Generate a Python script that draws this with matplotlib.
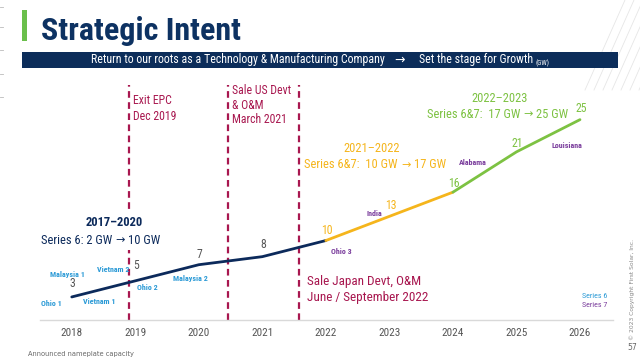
import matplotlib
matplotlib.use("Agg")
import matplotlib.pyplot as plt
from matplotlib.patches import Rectangle
from matplotlib import font_manager as fm

# ---- data ----
years = [2018, 2019, 2020, 2021, 2022, 2023, 2024, 2025, 2026]
capacity = [3, 5, 7, 8, 10, 13, 16, 21, 25]
value_labels = ["3", "5", "7", "8", "10", "13", "16", "21", "25"]
tick_labels = ["2018", "2019", "2020", "2021", "2022", "2023", "2024", "2025", "2026"]
events_x = [2018.9, 2020.46, 2021.57]

NAVY = "#0c2a5b"
YEL = "#f5b51c"
GRN = "#7dc242"
CRIM = "#a8174f"
BLUE = "#2b9ad6"
PURP = "#7a3d9c"
GRAY = "#555555"

# pick a condensed font if available
entries = fm.fontManager.ttflist
names = {f.name for f in entries}
COND = None
STRETCH = "normal"
for cand in ["Liberation Sans Narrow", "Roboto Condensed", "Open Sans Condensed",
             "Noto Sans Condensed", "DejaVu Sans Condensed"]:
    if cand in names:
        COND = cand
        break
if COND is None:
    for fam in ["Noto Sans", "Open Sans", "DejaVu Sans", "Roboto"]:
        if any(f.name == fam and str(f.stretch) in ("condensed", "semi-condensed", "75", "87")
               for f in entries):
            COND = fam
            STRETCH = "condensed"
            break
SCALE = 1.0
if COND is None:
    COND = "Liberation Sans"
    SCALE = 0.9

FAM = [COND, "DejaVu Sans"]
plt.rcParams['font.family'] = FAM
plt.rcParams['font.stretch'] = STRETCH

W, H = 640, 360
fig = plt.figure(figsize=(6.4, 3.6), dpi=100)


def fx(px):
    return px / W


def fy(py):
    return 1 - py / H


def fs(v):
    return v * SCALE


# axes: x from 40px to 613px, y from 85px to 320px
ax = fig.add_axes([fx(40), fy(320), fx(613) - fx(40), fy(85) - fy(320)])
ax.set_xlim(2017.5, 2026.52)
ax.set_ylim(0.14, 29.3)
for s in ["top", "right", "left"]:
    ax.spines[s].set_visible(False)
ax.spines["bottom"].set_color("#d9d9d9")
ax.spines["bottom"].set_linewidth(1)
ax.set_yticks([])
ax.set_xticks(years)
ax.set_xticklabels(tick_labels)
ax.tick_params(axis="x", length=0, pad=6, labelsize=fs(8), labelcolor=GRAY)
ax.patch.set_alpha(0)

# dashed event lines
for ex in events_x:
    ax.axvline(ex, color=CRIM, lw=1.6, linestyle=(0, (3, 2)), zorder=1)

# line segments
ax.plot(years[0:5], capacity[0:5], color=NAVY, lw=2, solid_capstyle="round", zorder=3)
ax.plot(years[4:7], capacity[4:7], color=YEL, lw=2, solid_capstyle="round", zorder=3)
ax.plot(years[6:9], capacity[6:9], color=GRN, lw=2, solid_capstyle="round", zorder=3)

# value labels
val_colors = [GRAY, GRAY, GRAY, GRAY, YEL, YEL, GRN, GRN, GRN]
val_offsets = [13, 15, 10, 12, 10, 11, 9, 8, 11]
for x, y, t, c, o in zip(years, capacity, value_labels, val_colors, val_offsets):
    ax.annotate(t, (x, y), xytext=(1, o), textcoords="offset pixels",
                ha="center", va="center", fontsize=fs(8.5), color=c)

# ---- page decorations ----
# faint diagonal hatch lines top-right
for i in range(7):
    x0 = 585 + i * 9
    fig.add_artist(plt.Line2D([fx(x0), fx(x0 + 40)], [fy(90), fy(0)], color="#e6e6e6",
                              lw=0.6, transform=fig.transFigure, zorder=0))
fig.add_artist(Rectangle((fx(22), fy(41)), fx(5), fy(10) - fy(41),
                         transform=fig.transFigure, color="#6abf4b", lw=0))
fig.text(fx(41), fy(40), "Strategic Intent", fontsize=23, fontweight="black",
         color="#0d3262", va="baseline", ha="left")
fig.add_artist(Rectangle((fx(22), fy(68)), fx(618) - fx(22), fy(52) - fy(68),
                         transform=fig.transFigure, color="#0c2d5a", lw=0, zorder=2))
fig.text(fx(91), fy(60), "Return to our roots as a Technology & Manufacturing Company",
         fontsize=fs(8.6), color="white", va="center", ha="left", zorder=3)
fig.text(fx(400), fy(60), "→", fontsize=9, color="white", va="center", ha="center",
         family=["DejaVu Sans"], zorder=3)
fig.text(fx(419), fy(60), "Set the stage for Growth", fontsize=fs(8.6), color="white",
         va="center", ha="left", zorder=3)
fig.text(fx(535), fy(63), "(GW)", fontsize=fs(5), color="white", va="center", ha="left",
         zorder=3)

# left edge small marks
for py in [7, 27, 50, 74, 97]:
    fig.add_artist(plt.Line2D([0, fx(3)], [fy(py), fy(py)], color="#bbbbbb", lw=0.6,
                              transform=fig.transFigure))

# event texts
ev_kw = dict(color=CRIM, fontsize=fs(8.5), va="center", ha="left")
fig.text(fx(133), fy(101), "Exit EPC", **ev_kw)
fig.text(fx(133), fy(117), "Dec 2019", **ev_kw)
fig.text(fx(232), fy(91), "Sale US Devt", **ev_kw)
fig.text(fx(232), fy(105), "& O&M", **ev_kw)
fig.text(fx(232), fy(120), "March 2021", **ev_kw)
fig.text(fx(307), fy(281), "Sale Japan Devt, O&M", color=CRIM, fontsize=fs(9.5), va="center", ha="left")
fig.text(fx(307), fy(297), "June / September 2022", color=CRIM, fontsize=fs(9.5), va="center", ha="left")


def arrow_line(left, right, x_arrow, y, color, size, weight="normal"):
    fig.text(fx(x_arrow - 8), fy(y), left, color=color, fontsize=size, ha="right",
             va="center", fontweight=weight, zorder=5)
    fig.text(fx(x_arrow), fy(y), "→", color=color, fontsize=size * 0.9, ha="center",
             va="center", family=["DejaVu Sans"], stretch="normal", zorder=5)
    fig.text(fx(x_arrow + 8), fy(y), right, color=color, fontsize=size, ha="left",
             va="center", fontweight=weight, zorder=5)


# white backing behind the 2017-2020 heading (covers dashed line)
fig.add_artist(Rectangle((fx(60), fy(250)), fx(170) - fx(60), fy(212) - fy(250),
                         transform=fig.transFigure, color="white", lw=0, zorder=4))

# period headings
fig.text(fx(114), fy(222), "2017–2020", color=NAVY, fontsize=fs(9), fontweight="bold",
         ha="center", va="center", zorder=5)
arrow_line("Series 6: 2 GW", "10 GW", 120, 240, NAVY, fs(9))
fig.text(fx(372), fy(149), "2021–2022", color=YEL, fontsize=fs(9), ha="center", va="center")
arrow_line("Series 6&7:  10 GW", "17 GW", 406, 165, YEL, fs(9))
fig.text(fx(500), fy(98), "2022–2023", color=GRN, fontsize=fs(9), ha="center", va="center")
arrow_line("Series 6&7:  17 GW", "25 GW", 528, 114, GRN, fs(9))

# plant labels
plants = [("Malaysia 1", 67, 274, BLUE), ("Ohio 1", 51, 304, BLUE), ("Vietnam 1", 99, 301, BLUE),
          ("Vietnam 2", 113, 269, BLUE), ("Ohio 2", 147, 288, BLUE), ("Malaysia 2", 190, 278, BLUE),
          ("Ohio 3", 341, 252, PURP), ("India", 374, 213, PURP), ("Alabama", 473, 163, PURP),
          ("Louisiana", 567, 145, PURP)]
for t, px, py, c in plants:
    fig.text(fx(px), fy(py), t, color=c, fontsize=fs(5.8), fontweight="bold",
             ha="center", va="center")

fig.text(fx(607), fy(296), "Series 6", color=BLUE, fontsize=fs(5.8), ha="right", va="center")
fig.text(fx(607), fy(305), "Series 7", color=PURP, fontsize=fs(5.8), ha="right", va="center")

fig.text(fx(28), fy(354), "Announced nameplate capacity", color="#666666", fontsize=4.8,
         ha="left", va="center", family=["DejaVu Sans"], stretch="normal")
fig.text(fx(632), fy(290), "© 2023 Copyright First Solar, Inc.", color="#888888", fontsize=4.3,
         rotation=90, ha="center", va="center", family=["DejaVu Sans"], stretch="normal")
fig.text(fx(632), fy(347), "57", color="#666666", fontsize=5.5, ha="center", va="center",
         family=["DejaVu Sans"], stretch="normal")

fig.savefig("out.png", dpi=100)
